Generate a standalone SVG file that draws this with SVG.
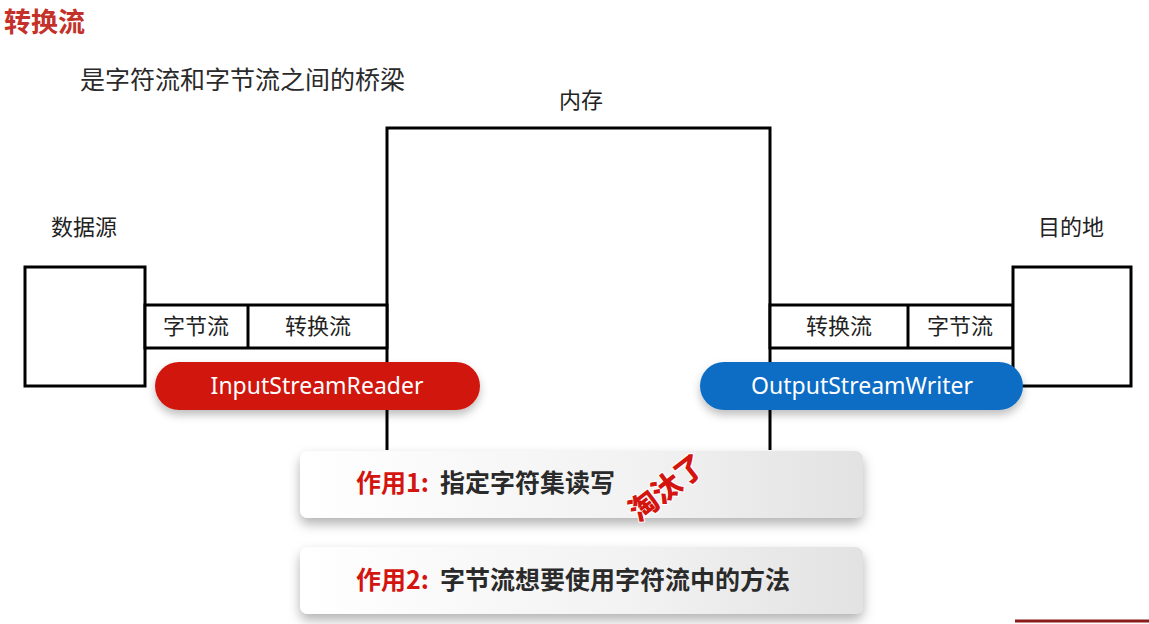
<svg xmlns="http://www.w3.org/2000/svg" width="1149" height="624" viewBox="0 0 1149 624">
  <defs>
    <style>
      .cn { font-family: "Noto Sans CJK SC", "Noto Sans", sans-serif; }
      .lbl { font-size: 22px; fill: #222; }
      .ln { fill: none; stroke: #000; stroke-width: 3; }
      .box { fill: #fff; stroke: #000; stroke-width: 3; }
      .pilltxt { font-family: "Noto Sans", "Open Sans", sans-serif; font-size: 23px; fill: #fff; }
      .cardtxt { font-family: "Noto Sans CJK SC", sans-serif; font-size: 25px; font-weight: bold; fill: #2a2a2a; }
      .red { fill: #d3140f; }
    </style>
    <linearGradient id="cardGrad" x1="0" y1="0" x2="1" y2="0">
      <stop offset="0" stop-color="#ffffff"/>
      <stop offset="0.6" stop-color="#f2f2f2"/>
      <stop offset="1" stop-color="#e2e2e2"/>
    </linearGradient>
    <filter id="shadow" x="-10%" y="-30%" width="120%" height="180%">
      <feDropShadow dx="0" dy="5" stdDeviation="4" flood-color="#000" flood-opacity="0.25"/>
    </filter>
    <filter id="cardShadow" x="-10%" y="-30%" width="120%" height="180%">
      <feDropShadow dx="0" dy="6" stdDeviation="6" flood-color="#000" flood-opacity="0.3"/>
    </filter>
  </defs>
  <rect width="1149" height="624" fill="#fff"/>

  <g id="title">
    <text class="cn" x="4" y="32" font-size="27" font-weight="bold" fill="#c4312a">转换流</text>
    <text class="cn" x="80" y="89" font-size="25" fill="#2a2a2a">是字符流和字节流之间的桥梁</text>
  </g>

  <g id="connectors">
    <polyline class="ln" points="387,450 387,128 770,128 770,450"/>
  </g>

  <g id="memory">
    <text class="cn lbl" x="581" y="108" text-anchor="middle">内存</text>
  </g>

  <g id="source">
    <text class="cn lbl" x="84" y="235" text-anchor="middle">数据源</text>
    <rect class="box" x="25" y="267" width="120" height="119"/>
  </g>

  <g id="input-band">
    <rect class="box" x="145" y="305" width="242" height="43"/>
    <line class="ln" x1="248" y1="305" x2="248" y2="348"/>
    <text class="cn lbl" x="196" y="334" text-anchor="middle">字节流</text>
    <text class="cn lbl" x="318" y="334" text-anchor="middle">转换流</text>
  </g>

  <g id="output-band">
    <rect class="box" x="770" y="305" width="243" height="43"/>
    <line class="ln" x1="908" y1="305" x2="908" y2="348"/>
    <text class="cn lbl" x="839" y="334" text-anchor="middle">转换流</text>
    <text class="cn lbl" x="960" y="334" text-anchor="middle">字节流</text>
  </g>

  <g id="destination">
    <text class="cn lbl" x="1071" y="235" text-anchor="middle">目的地</text>
    <rect class="box" x="1013" y="267" width="118" height="119"/>
  </g>

  <g id="input-reader">
    <rect x="155" y="362" width="325" height="48" rx="24" fill="#d0190f" filter="url(#shadow)"/>
    <text class="pilltxt" x="317" y="394" text-anchor="middle">InputStreamReader</text>
  </g>

  <g id="output-writer">
    <rect x="700" y="362" width="323" height="48" rx="24" fill="#0b6cc4" filter="url(#shadow)"/>
    <text class="pilltxt" x="862" y="394" text-anchor="middle">OutputStreamWriter</text>
  </g>

  <g id="card1">
    <rect x="300" y="451" width="563" height="67" rx="8" fill="url(#cardGrad)" filter="url(#cardShadow)"/>
    <text class="cardtxt red" x="356" y="492">作用1:</text>
    <text class="cardtxt" x="440" y="492">指定字符集读写</text>
    <text class="cn" transform="translate(673,496) rotate(-38)" text-anchor="middle" font-size="29" font-weight="900" fill="#d3140f" stroke="#fff" stroke-width="2" paint-order="stroke">淘汰了</text>
  </g>

  <g id="card2">
    <rect x="300" y="547" width="563" height="67" rx="8" fill="url(#cardGrad)" filter="url(#cardShadow)"/>
    <text class="cardtxt red" x="356" y="589">作用2:</text>
    <text class="cardtxt" x="440" y="589">字节流想要使用字符流中的方法</text>
  </g>

  <line x1="1015" y1="621" x2="1149" y2="621" stroke="#8b1a1a" stroke-width="3"/>
</svg>
